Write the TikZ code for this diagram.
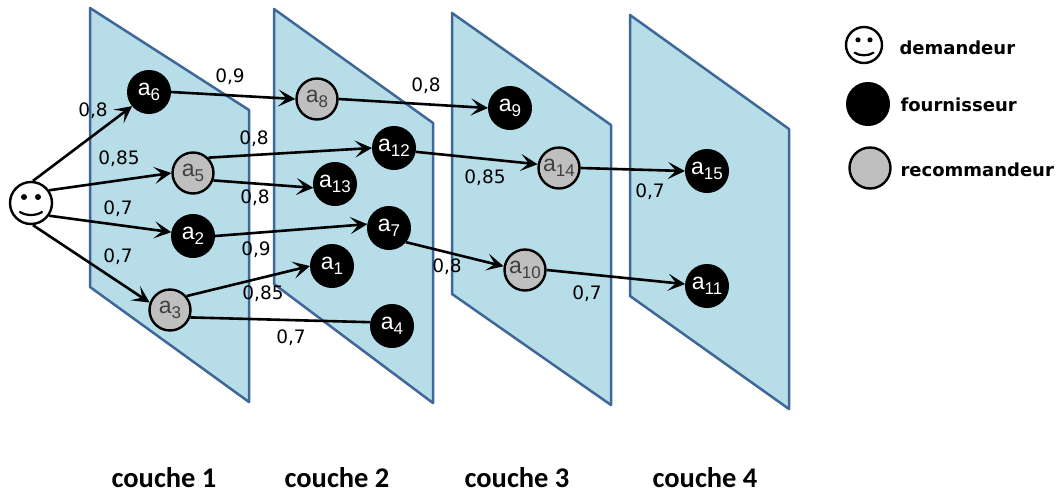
\documentclass[tikz,border=0pt]{standalone}
\usepackage{fontspec}
\setmainfont{DejaVu Sans}
\newfontfamily\agentfont{Liberation Sans}
\newfontfamily\coucheFont{Carlito}
\usetikzlibrary{arrows.meta}
\definecolor{planefill}{HTML}{B7DDE8}
\definecolor{planeline}{HTML}{3F6797}
\definecolor{recogray}{HTML}{BFBFBF}
\newcommand{\agent}[1]{a\raisebox{-.4ex}{\fontsize{17}{17}\selectfont #1}}
\tikzset{
	plane/.style={draw=planeline,fill=planefill,line width=2.5pt,line join=round},
	fourn/.style={circle,fill=black,draw=black,line width=1pt,minimum size=43pt,inner sep=0pt,text=white,font=\agentfont\fontsize{23}{23}\selectfont},
	recom/.style={circle,fill=recogray,draw=black,line width=2.4pt,minimum size=41pt,inner sep=0pt,text=black!75,font=\agentfont\fontsize{23}{23}\selectfont},
	smiley/.style={circle,draw=black,line width=2.4pt,minimum size=2*#1 pt,inner sep=0pt},
	link/.style={line width=2.6pt,-{Stealth[length=17pt,width=17pt,inset=8pt]}},
	poids/.style={font=\fontsize{18.5}{18.5}\selectfont,text=black},
	legende/.style={font=\bfseries\fontsize{18}{18}\selectfont,anchor=west},
	couche/.style={font=\coucheFont\bfseries\fontsize{28.5}{28.5}\selectfont}
}
% yeux et bouche, en unites relatives au noeud
\newcommand{\visage}[2]{
	\begin{scope}[shift={(#1.center)},scale=#2]
		\fill[black] (-7,-6) circle (3);
		\fill[black] (7,-6) circle (3);
		\draw[line width=2.2pt,line cap=round] (-11,9) .. controls (-5,13) and (5,13) .. (11,9);
	\end{scope}
}
\begin{document}
\begin{tikzpicture}[x=1pt,y=-1pt]
	\useasboundingbox (0,0) rectangle (1060,493);
	% les couches
	\draw[plane] (90,8) -- (249,110) -- (249,402) -- (90,287) -- cycle;
	\draw[plane] (274,9) -- (433,123) -- (433,403) -- (274,284) -- cycle;
	\draw[plane] (452,13) -- (611,125) -- (611,405) -- (452,294) -- cycle;
	\draw[plane] (630,15) -- (789,129) -- (789,409) -- (630,296) -- cycle;
	% les agents
	\node[smiley=21,fill=white] (dem) at (31,203) {};
	\visage{dem}{1}
	\node[fourn] (a6) at (149,92) {\agent{6}};
	\node[recom] (a5) at (193,173) {\agent{5}};
	\node[fourn] (a2) at (193,236) {\agent{2}};
	\node[recom] (a3) at (170,310) {\agent{3}};
	\node[recom] (a8) at (317,99) {\agent{8}};
	\node[fourn] (a12) at (394,148) {\agent{12}};
	\node[fourn] (a13) at (335,184) {\agent{13}};
	\node[fourn] (a7) at (389,228) {\agent{7}};
	\node[fourn] (a1) at (332,266) {\agent{1}};
	\node[fourn] (a4) at (392,326) {\agent{4}};
	\node[fourn] (a9) at (510,108) {\agent{9}};
	\node[recom] (a14) at (559,168) {\agent{14}};
	\node[recom] (a10) at (525,270) {\agent{10}};
	\node[fourn] (a15) at (707,171) {\agent{15}};
	\node[fourn] (a11) at (707,286) {\agent{11}};
	% les liens
	\draw[link] (dem.85) -- (a6.-140);
	\draw[link] (dem.35) -- (a5.west);
	\draw[link] (dem.-35) -- (a2.170);
	\draw[link] (dem.-85) -- (a3.160);
	\draw[link] (a6.east) -- (a8.west);
	\draw[link] (a5.45) -- (a12.west);
	\draw[link] (a5.-20) -- (a13.-170);
	\draw[link] (a2.east) -- (a7.170);
	\draw[link] (a3.40) -- (a1.west);
	\draw[line width=2.6pt] (a3.-20) -- (a4.170);
	\draw[link] (a8.east) -- (a9.west);
	\draw[link] (a12.-10) -- (a14.170);
	\draw[link] (a7.-40) -- (a10.170);
	\draw[link] (a14.east) -- (a15.west);
	\draw[link] (a10.east) -- (a11.175);
	% les poids
	\node[poids] (p1) at (93,111) {0,8};
	\node[poids] (p2) at (119,159) {0,85};
	\node[poids] (p3) at (118,209) {0,7};
	\node[poids] (p4) at (118,257) {0,7};
	\node[poids] (p5) at (230,77) {0,9};
	\node[poids] (p6) at (254,139) {0,8};
	\node[poids] (p7) at (255,198) {0,8};
	\node[poids] (p8) at (256,250) {0,9};
	\node[poids] (p9) at (263,294) {0,85};
	\node[poids] (p10) at (291,338) {0,7};
	\node[poids] (p11) at (426,86) {0,8};
	\node[poids] (p12) at (485,178) {0,85};
	\node[poids] (p13) at (447,267) {0,8};
	\node[poids] (p14) at (587,294) {0,7};
	\node[poids] (p15) at (650,192) {0,7};
	% la legende
	\node[smiley=18] (legdem) at (864,45) {};
	\visage{legdem}{0.857}
	\node[fourn] (legfourn) at (868,104) {};
	\node[recom] (legrecom) at (870,168) {};
	\node[legende] (txtdem) at (896,48) {demandeur};
	\node[legende] (txtfourn) at (897,105) {fournisseur};
	\node[legende] (txtrecom) at (897,170) {recommandeur};
	% les titres
	\node[couche] (c1) at (164,478) {couche 1};
	\node[couche] (c2) at (337,478) {couche 2};
	\node[couche] (c3) at (517,478) {couche 3};
	\node[couche] (c4) at (705,478) {couche 4};
\end{tikzpicture}
\end{document}
